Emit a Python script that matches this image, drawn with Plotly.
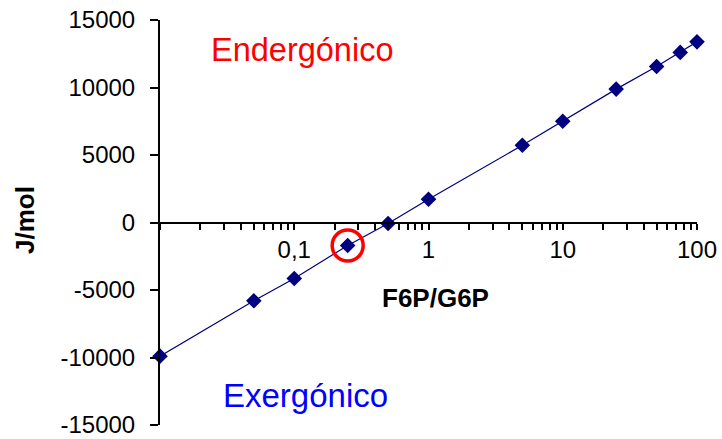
import plotly.graph_objects as go

ratio = [0.01, 0.05, 0.1, 0.25, 0.5, 1, 5, 10, 25, 50, 75, 100]
dG = [-9900, -5800, -4150, -1700, -70, 1720, 5720, 7500, 9880, 11560, 12600, 13380]

x_tickvals = [0.01, 0.1, 1, 10, 100]
x_ticktext = ["", "0,1", "1", "10", "100"]
x_minor = [m * d for d in (0.01, 0.1, 1, 10) for m in range(2, 10)]
y_tickvals = [-15000, -10000, -5000, 0, 5000, 10000, 15000]
y_ticktext = ["-15000", "-10000", "-5000", "0", "5000", "10000", "15000"]

highlight_x = [0.25]
highlight_y = [-1700]

font = "Liberation Sans, Arial, sans-serif"

W, H = 722, 439
L, R, T, B = 160, 25, 20, 14
pw, ph = W - L - R, H - T - B


def px(x):
    return (x - L) / pw


def py(y):
    return (H - B - y) / ph


fig = go.Figure()
fig.add_trace(go.Scatter(
    x=ratio, y=dG, mode="lines+markers",
    line=dict(color="#000080", width=1.2),
    marker=dict(symbol="diamond", size=12, color="#000080"),
    cliponaxis=False, showlegend=False,
))
fig.add_trace(go.Scatter(
    x=highlight_x, y=highlight_y, mode="markers",
    marker=dict(symbol="circle-open", size=31, color="#FF0000", line=dict(width=3.5, color="#FF0000")),
    cliponaxis=False, showlegend=False,
))

fig.update_layout(
    width=W, height=H,
    margin=dict(l=L, r=R, t=T, b=B),
    paper_bgcolor="white", plot_bgcolor="white",
    font=dict(family=font, color="black", size=24),
    xaxis=dict(
        type="log", range=[-2, 2], automargin=False,
        anchor="free", position=0.5,
        showline=True, linecolor="black", linewidth=2,
        showgrid=False, zeroline=False,
        ticks="outside", ticklen=6, tickwidth=1.5, tickcolor="black",
        tickvals=x_tickvals, ticktext=x_ticktext,
        tickfont=dict(size=24), ticklabeloverflow="allow",
        minor=dict(tickvals=x_minor, ticks="outside", ticklen=6, tickwidth=1.5, tickcolor="black", showgrid=False),
    ),
    yaxis=dict(
        range=[-15000, 15000], automargin=False,
        showline=True, linecolor="black", linewidth=2,
        showgrid=False, zeroline=False,
        ticks="outside", ticklen=8, tickwidth=1.5, tickcolor="black",
        tickvals=y_tickvals, ticktext=y_ticktext,
        tickfont=dict(size=24), ticklabelstandoff=10, ticklabeloverflow="allow",
    ),
    annotations=[
        dict(text="Endergónico", x=px(302), y=py(50), xref="paper", yref="paper",
             xanchor="center", yanchor="middle",
             showarrow=False, font=dict(size=32.5, color="#FF0000")),
        dict(text="Exergónico", x=px(305), y=py(395), xref="paper", yref="paper",
             xanchor="center", yanchor="middle",
             showarrow=False, font=dict(size=33, color="#0000FF")),
        dict(text="<b>F6P/G6P</b>", x=px(435), y=py(298), xref="paper", yref="paper",
             xanchor="center", yanchor="middle",
             showarrow=False, font=dict(size=26, color="black")),
        dict(text="<b>J/mol</b>", x=px(25), y=py(220), xref="paper", yref="paper",
             xanchor="center", yanchor="middle",
             showarrow=False, textangle=-90, font=dict(size=26, color="black")),
    ],
)

fig.write_html(
    "out.html",
    config={"displayModeBar": False},
    post_script="document.body.style.margin='0';document.body.style.overflow='hidden';",
)
